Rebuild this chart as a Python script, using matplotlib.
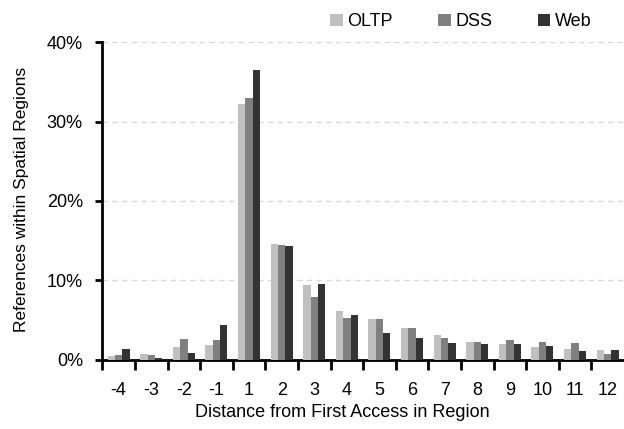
import matplotlib
matplotlib.use("Agg")
import matplotlib.pyplot as plt
import numpy as np
from matplotlib.patches import Patch
from matplotlib.ticker import FuncFormatter, FixedLocator

plt.rcParams['font.family'] = ['Liberation Sans', 'DejaVu Sans']

categories = ["-4", "-3", "-2", "-1", "1", "2", "3", "4", "5", "6", "7", "8", "9", "10", "11", "12"]
oltp = [0.44, 0.78, 1.66, 1.86, 32.2, 14.65, 9.4, 6.19, 5.09, 4.05, 3.08, 2.29, 1.99, 1.61, 1.41, 1.2]
dss  = [0.65, 0.57, 2.67, 2.54, 33.0, 14.5, 7.86, 5.26, 5.2, 4.05, 2.79, 2.29, 2.49, 2.2, 2.08, 0.73]
web  = [1.36, 0.19, 0.90, 4.38, 36.5, 14.36, 9.5, 5.6, 3.37, 2.74, 2.08, 1.99, 2.04, 1.7, 1.1, 1.28]
series_names = ["OLTP", "DSS", "Web"]
colors = ["#c0c0c0", "#808080", "#333333"]

fig = plt.figure(figsize=(6.24, 4.29), dpi=100)
ax = fig.add_axes([0.164, 0.161, 0.836, 0.741])

x = np.arange(len(categories))
w = 0.225
for i, (vals, c) in enumerate(zip([oltp, dss, web], colors)):
    ax.bar(x + (i - 1) * w, vals, width=w, color=c, zorder=3, linewidth=0)

ax.set_xlim(-0.5, len(categories) - 0.5)
ax.set_ylim(0, 40)
ax.set_yticks([0, 10, 20, 30, 40])
ax.yaxis.set_major_formatter(FuncFormatter(lambda v, p: f"{int(v)}%"))
ax.yaxis.grid(True, color="#d9d9d9", linestyle=(0, (4, 3)), linewidth=1, zorder=0)

ax.set_xticks(x)
ax.set_xticklabels(categories)
ax.xaxis.set_minor_locator(FixedLocator(np.arange(-0.5, len(categories) - 0.5, 1.0)))
ax.tick_params(axis='x', which='major', length=0, labelsize=13, pad=16)
ax.tick_params(axis='x', which='minor', length=7, width=2, direction='out')
ax.tick_params(axis='y', length=5, width=2, direction='out', labelsize=13, pad=9)

for s in ["top", "right"]:
    ax.spines[s].set_visible(False)
for s in ["left", "bottom"]:
    ax.spines[s].set_linewidth(2)

ax.set_xlabel("Distance from First Access in Region", fontsize=13, labelpad=6)
ax.xaxis.set_label_coords(0.46, -0.138, transform=ax.transAxes)
ax.xaxis.label.set_va('top')
ax.set_ylabel("References within Spatial Regions", fontsize=12.5)
ax.yaxis.set_label_coords(-0.14, 0.505)

handles = [Patch(facecolor=c, edgecolor='none') for c in colors]
fig.legend(handles, series_names, loc="upper left", bbox_to_anchor=(0.518, 0.986),
           ncol=3, frameon=False, fontsize=13, handlelength=0.7, handleheight=0.7,
           handletextpad=0.25, columnspacing=2.5, borderaxespad=0.0)

fig.savefig("out.png", dpi=100)
